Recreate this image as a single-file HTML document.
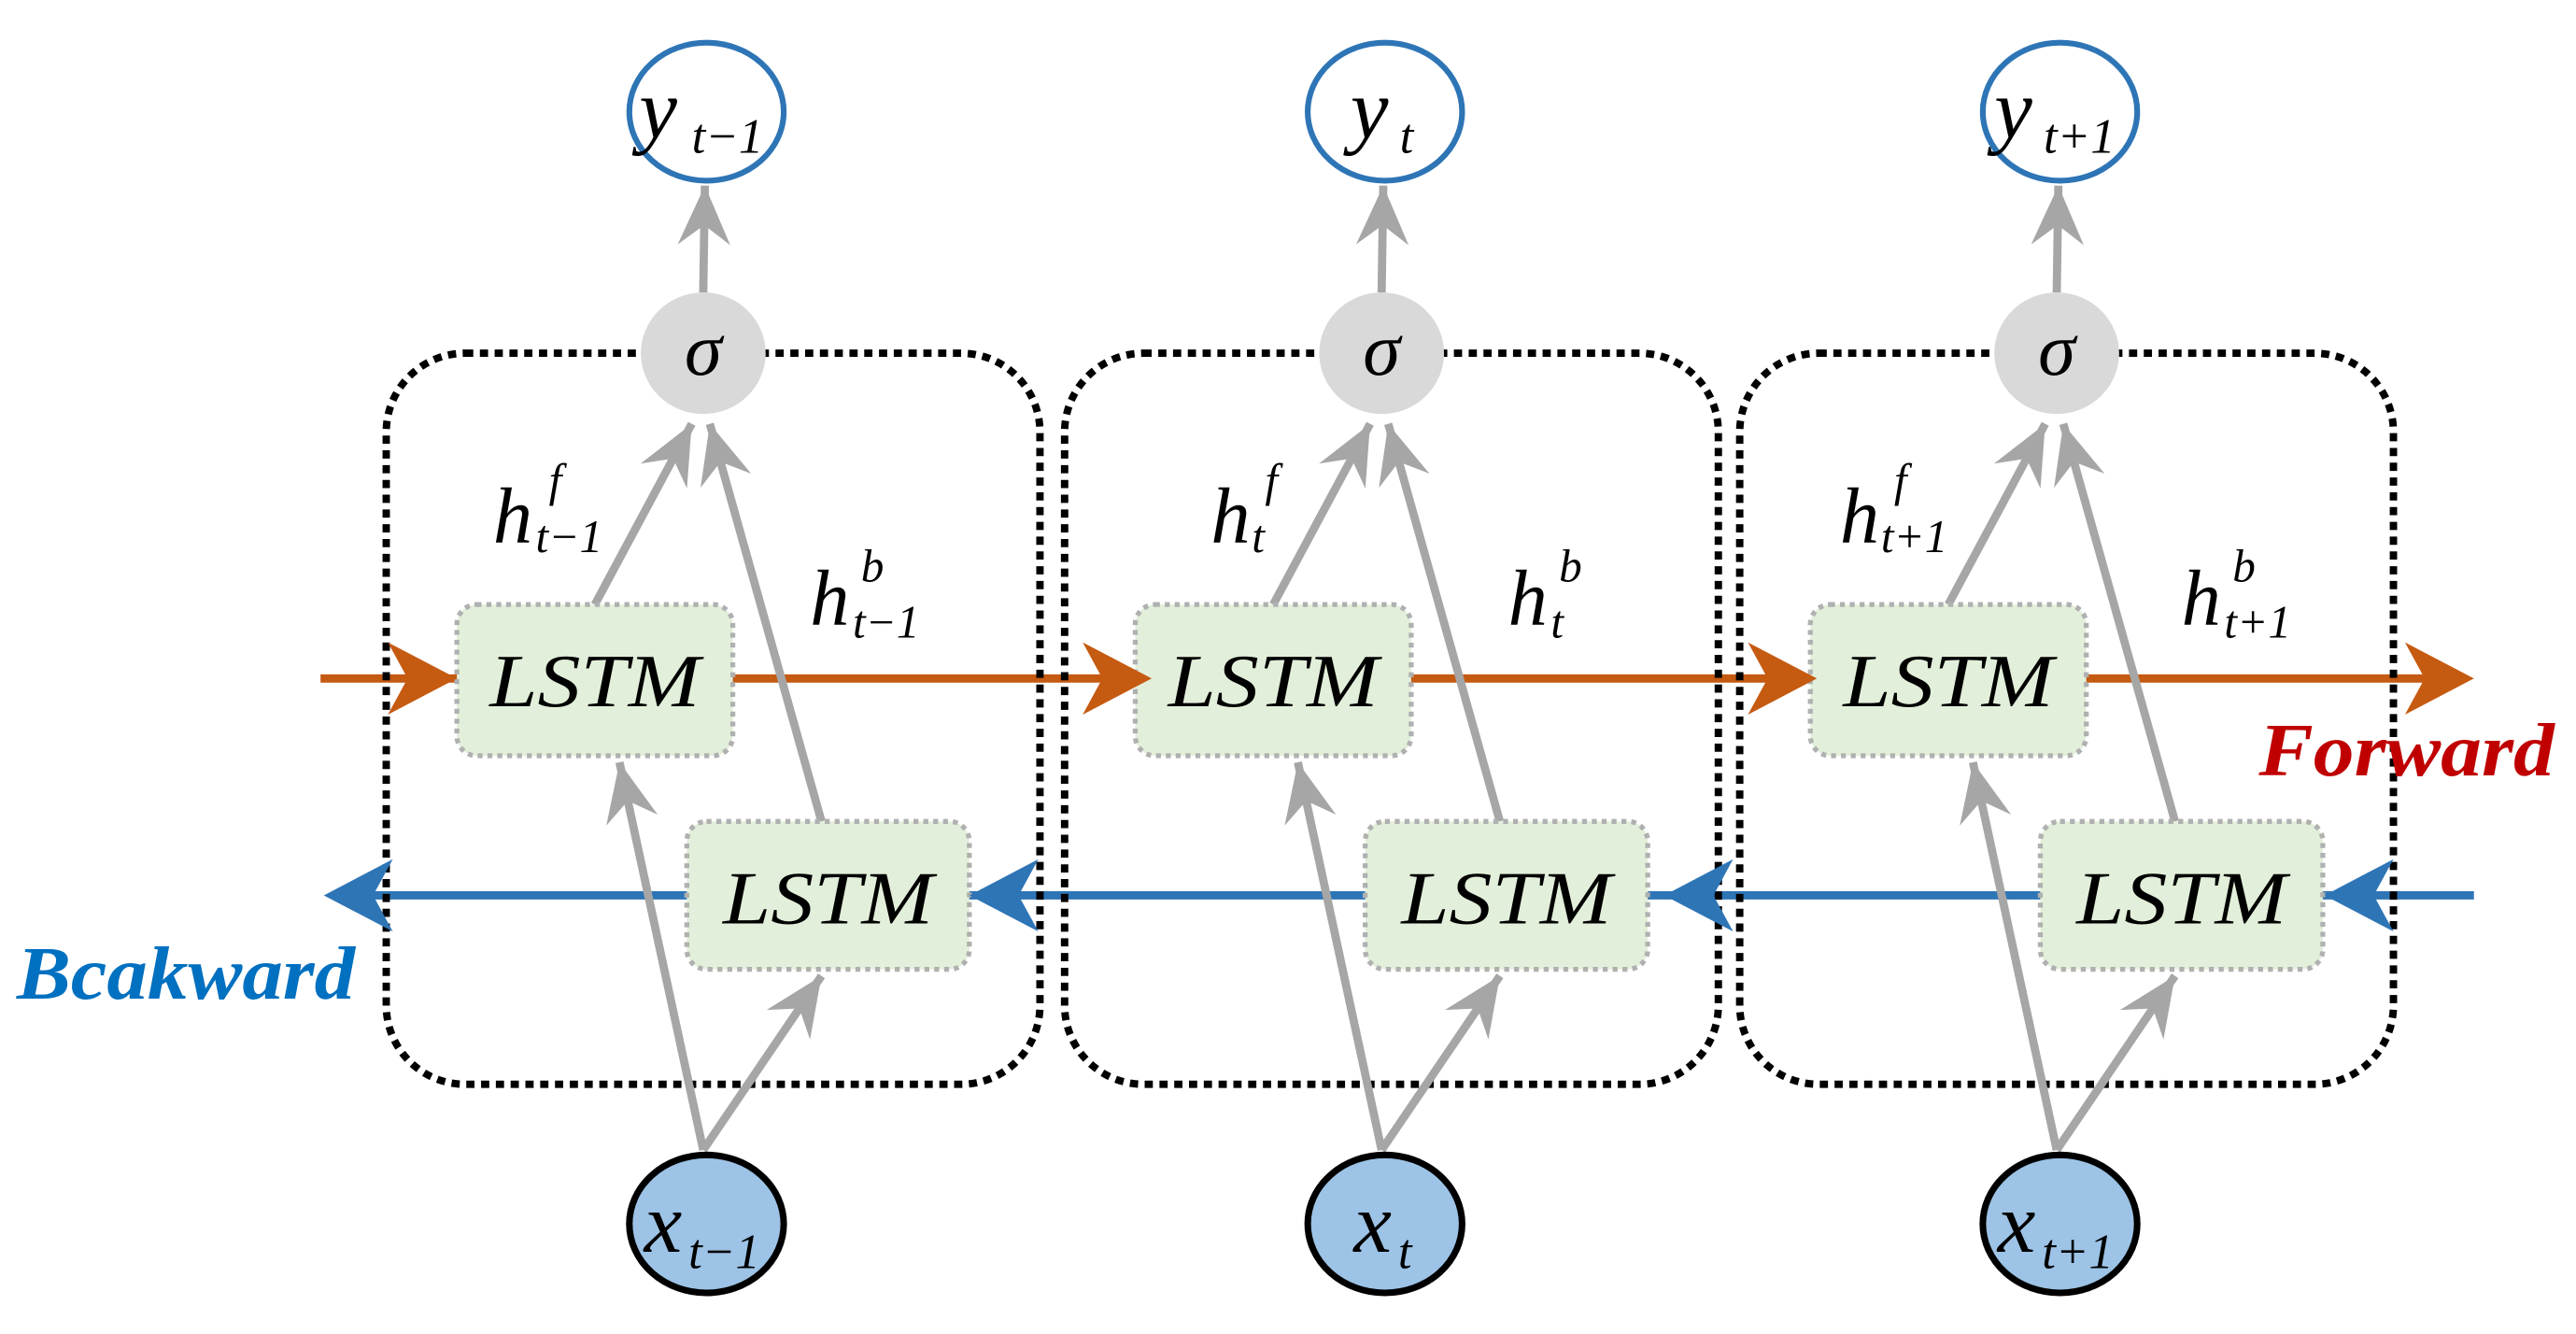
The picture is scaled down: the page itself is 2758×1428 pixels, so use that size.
<!DOCTYPE html>
<html><head><meta charset="utf-8"><style>
html,body{margin:0;padding:0;background:#fff;}
svg{display:block;}
</style></head><body>
<svg width="2758" height="1428" viewBox="0 0 1568 812" xmlns="http://www.w3.org/2000/svg" font-family="'Liberation Serif','Times New Roman',serif" font-style="italic">
<defs>
<marker id="ga" markerUnits="userSpaceOnUse" viewBox="-40 -20 42 40" refX="0" refY="0" markerWidth="42" markerHeight="40" orient="auto">
<path d="M0,0 L-36,-16 L-24,0 L-36,16 Z" fill="#a6a6a6"/>
</marker>
<g id="cell">
<rect x="235" y="215" width="398" height="445" rx="48" fill="none" stroke="#000" stroke-width="4.5" stroke-dasharray="5 4"/>
<g stroke="#a6a6a6" stroke-width="5" fill="none">
<line x1="428" y1="178" x2="429" y2="113" marker-end="url(#ga)"/>
<line x1="362" y1="368" x2="421" y2="258" marker-end="url(#ga)"/>
<line x1="500" y1="500" x2="432" y2="258" marker-end="url(#ga)"/>
<line x1="428" y1="700" x2="377" y2="464" marker-end="url(#ga)"/>
<line x1="428" y1="700" x2="500" y2="594" marker-end="url(#ga)"/>
</g>
<ellipse cx="428" cy="215" rx="38" ry="37" fill="#d9d9d9"/>
<text x="428" y="228" font-size="46" text-anchor="middle" font-family="'Liberation Serif',serif" font-style="italic">σ</text>
<ellipse cx="430" cy="68" rx="47" ry="42" fill="#fff" stroke="#2e75b6" stroke-width="3.5"/>
<ellipse cx="430" cy="745" rx="47" ry="42" fill="#9dc3e6" stroke="#000" stroke-width="4"/>
<rect x="278" y="368" width="168" height="92" rx="12" fill="#e2efda" stroke="#b0b0b0" stroke-width="3" stroke-dasharray="3 3"/>
<rect x="418" y="500" width="172" height="90" rx="12" fill="#e2efda" stroke="#b0b0b0" stroke-width="3" stroke-dasharray="3 3"/>
<text x="362" y="430" font-size="46" text-anchor="middle" textLength="128" lengthAdjust="spacingAndGlyphs" font-family="'Liberation Serif',serif" font-style="italic">LSTM</text>
<text x="504" y="562" font-size="46" text-anchor="middle" textLength="128" lengthAdjust="spacingAndGlyphs" font-family="'Liberation Serif',serif" font-style="italic">LSTM</text>
</g>
</defs>

<!-- forward line (behind cells) -->
<line x1="195" y1="413" x2="1500" y2="413" stroke="#c55a11" stroke-width="5"/>
<!-- backward line -->
<line x1="205" y1="545" x2="1506" y2="545" stroke="#2e75b6" stroke-width="5"/>

<use href="#cell"/>
<use href="#cell" transform="translate(413,0)"/>
<use href="#cell" transform="translate(824,0)"/>

<g fill="#c55a11">
<path d="M278,413 L236,391 L248,413 L236,435 Z"/>
<path d="M701,413 L659,391 L671,413 L659,435 Z"/>
<path d="M1106,413 L1064,391 L1076,413 L1064,435 Z"/>
<path d="M1506,413 L1464,391 L1476,413 L1464,435 Z"/>
</g>
<g fill="#2e75b6">
<path d="M197,545 L239,523 L227,545 L239,567 Z"/>
<path d="M590,545 L632,523 L620,545 L632,567 Z"/>
<path d="M1013,545 L1055,523 L1043,545 L1055,567 Z"/>
<path d="M1415,545 L1457,523 L1445,545 L1457,567 Z"/>
</g>

<g font-size="52">
<text x="389" y="84">y</text><text x="421" y="93" font-size="30">t−1</text>
<text x="822" y="84">y</text><text x="852" y="93" font-size="30">t</text>
<text x="1214" y="84">y</text><text x="1244" y="93" font-size="30">t+1</text>
<text x="392" y="762">x</text><text x="419" y="772" font-size="30">t−1</text>
<text x="824" y="762">x</text><text x="851" y="772" font-size="30">t</text>
<text x="1216" y="762">x</text><text x="1243" y="772" font-size="30">t+1</text>
</g>
<g font-size="48">
<text x="300" y="330">h</text><text x="334" y="302" font-size="28">f</text><text x="326" y="336" font-size="28">t−1</text>
<text x="737" y="330">h</text><text x="770" y="302" font-size="28">f</text><text x="762" y="336" font-size="28">t</text>
<text x="1120" y="330">h</text><text x="1153" y="302" font-size="28">f</text><text x="1145" y="336" font-size="28">t+1</text>
<text x="493" y="380">h</text><text x="524" y="354" font-size="28">b</text><text x="519" y="388" font-size="28">t−1</text>
<text x="918" y="380">h</text><text x="949" y="354" font-size="28">b</text><text x="944" y="388" font-size="28">t</text>
<text x="1328" y="380">h</text><text x="1359" y="354" font-size="28">b</text><text x="1354" y="388" font-size="28">t+1</text>
</g>
<text x="1375" y="472" font-size="46" font-weight="bold" fill="#c00000" textLength="180" lengthAdjust="spacingAndGlyphs">Forward</text>
<text x="10" y="608" font-size="46" font-weight="bold" fill="#0070c0" textLength="206" lengthAdjust="spacingAndGlyphs">Bcakward</text>
</svg>
</body></html>
